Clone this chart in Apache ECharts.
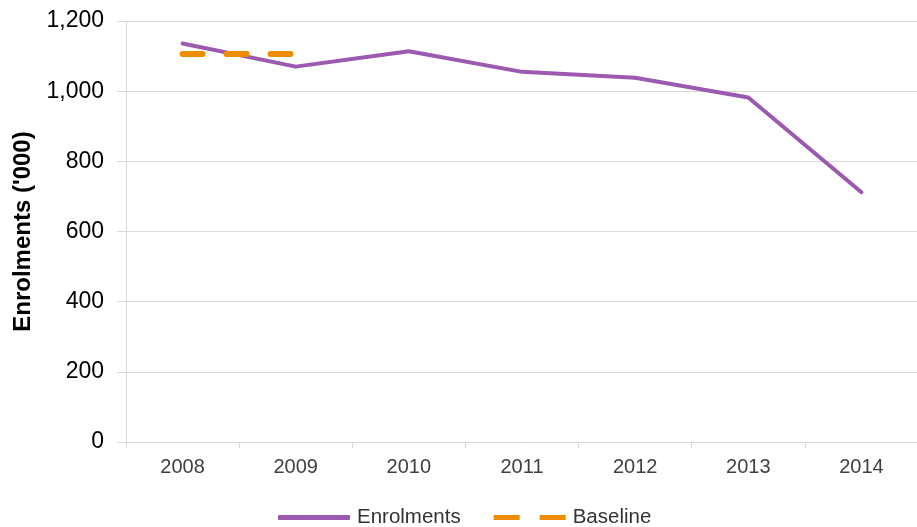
<!DOCTYPE html>
<html><head><meta charset="utf-8">
<script src="https://cdn.jsdelivr.net/npm/echarts@6/dist/echarts.min.js"></script>
<style>html,body{margin:0;padding:0;background:#fff}#c{width:917px;height:527px}</style>
</head><body><div id="c"></div>
<script>
const years = ['2008','2009','2010','2011','2012','2013','2014'];
const enrolments = [1136, 1070, 1114, 1055, 1038, 982, 712];
const baseline = [1106, 1106, null, null, null, null, null];
const yTicks = [0, 200, 400, 600, 800, 1000, 1200];

const FONT = 'Liberation Sans, Arial, sans-serif';
const chart = echarts.init(document.getElementById('c'), null, {renderer:'canvas'});
chart.setOption({
  animation:false,
  backgroundColor:'#fff',
  textStyle:{fontFamily:FONT},
  grid:{left:126, top:21, width:792, height:421, containLabel:false, outerBoundsMode:'none'},
  legend:{
    top:507, left:278, padding:0, itemWidth:72, itemHeight:5, itemGap:33,
    textStyle:{fontSize:20.5, color:'#333', fontFamily:FONT, padding:[0,0,0,2]},
    data:[
      {name:'Enrolments', icon:'roundRect', itemStyle:{color:'#9b59b0'}},
      {name:'Baseline', icon:'path://M0,0h26v5h-26zM46,0h26v5h-26z', itemStyle:{color:'#ee8c00'}}
    ]
  },
  xAxis:{
    type:'category', data:years, boundaryGap:true,
    axisLine:{lineStyle:{color:'#d9d9d9', width:1}},
    axisTick:{show:true, length:6, lineStyle:{color:'#d9d9d9'}},
    axisLabel:{fontSize:20, color:'#404040', margin:15}
  },
  yAxis:{
    type:'value', min:0, max:1200, interval:200,
    name:"Enrolments ('000)", nameLocation:'middle', nameGap:90,
    nameTextStyle:{fontSize:24, fontWeight:'bold', color:'#000', fontFamily:FONT},
    axisLine:{show:true, lineStyle:{color:'#d9d9d9'}},
    axisTick:{show:true, inside:false, length:9, lineStyle:{color:'#d9d9d9'}},
    splitLine:{lineStyle:{color:'#d9d9d9', width:1}},
    axisLabel:{fontSize:23, color:'#000', margin:22,
      formatter: v => yTicks.includes(v) ? v.toLocaleString('en-US') : ''}
  },
  series:[
    {name:'Enrolments', type:'line', data:enrolments, symbol:'none',
     itemStyle:{color:'#9b59b0'},
     lineStyle:{color:'#9b59b0', width:4, cap:'round', join:'round'}},
    {name:'Baseline', type:'line', data:baseline, symbol:'none',
     itemStyle:{color:'#ee8c00'},
     lineStyle:{color:'#ee8c00', width:6, type:[20,24], cap:'round'}}
  ]
});
</script></body></html>
